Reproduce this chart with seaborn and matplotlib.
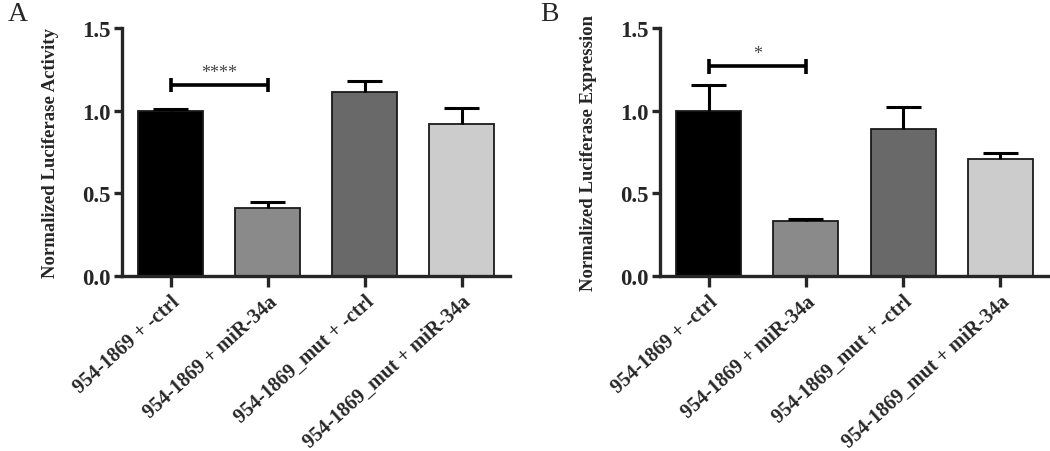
import matplotlib
matplotlib.use("Agg")
import matplotlib.pyplot as plt
import seaborn as sns
import numpy as np
import pandas as pd

categories = ["954-1869 + -ctrl", "954-1869 + miR-34a",
              "954-1869_mut + -ctrl", "954-1869_mut + miR-34a"]
activity_mean = [1.00, 0.41, 1.11, 0.92]
activity_err = [0.01, 0.04, 0.07, 0.095]
expression_mean = [1.00, 0.335, 0.89, 0.705]
expression_err = [0.155, 0.01, 0.13, 0.04]
bar_colors = ["#000000", "#8a8a8a", "#696969", "#cccccc"]
y_ticks = [0.0, 0.5, 1.0, 1.5]
panel_labels = ["A", "B"]
y_labels = ["Normalized Luciferase Activity", "Normalized Luciferase Expression"]
sig_marks = ["****", "*"]
sig_heights = [1.155, 1.268]

sns.set_style("ticks")
plt.rcParams["font.family"] = ["Liberation Serif", "DejaVu Serif"]

fig = plt.figure(figsize=(10.5, 4.52), dpi=100)
axA = fig.add_axes([122/1050, 1-277/452, 388/1050, 248/452])
axB = fig.add_axes([660/1050, 1-277/452, 389/1050, 248/452])

panels = [(axA, activity_mean, activity_err), (axB, expression_mean, expression_err)]

for i, (ax, means, errs) in enumerate(panels):
    df = pd.DataFrame({"group": categories, "value": means})
    sns.barplot(data=df, x="group", y="value", hue="group", palette=bar_colors,
                order=categories, hue_order=categories, legend=False,
                width=0.67, edgecolor="#1a1a1a", linewidth=1.3, ax=ax, errorbar=None)
    xpos = np.arange(len(categories))
    tops = np.array(means) + np.array(errs)
    ax.vlines(xpos, means, tops, color="black", lw=2.2, zorder=1)
    ax.hlines(tops, xpos - 0.18, xpos + 0.18, color="black", lw=2.2, zorder=1)
    ax.set_xlim(-0.5, 3.5)
    ax.set_ylim(0, 1.5)
    ax.set_yticks(y_ticks)
    ax.set_yticklabels([f"{t:.1f}" for t in y_ticks], fontsize=16.5, fontweight="bold")
    ax.set_xticks(xpos)
    ax.set_xticklabels(categories, rotation=42, ha="right", rotation_mode="anchor",
                       fontsize=14.5, fontweight="bold")
    ax.set_xlabel("")
    ax.set_ylabel(y_labels[i], fontsize=13.5, fontweight="bold", labelpad=17)
    for s in ["top", "right"]:
        ax.spines[s].set_visible(False)
    for s in ["left", "bottom"]:
        ax.spines[s].set_linewidth(2.4)
    ax.tick_params(axis="y", length=6, width=2.4, pad=2)
    ax.tick_params(axis="x", length=8, width=2.4, pad=3)
    # significance bracket
    h = sig_heights[i]
    ax.plot([0, 1], [h, h], color="black", lw=2.6, solid_capstyle="butt")
    for xb in [0, 1]:
        ax.plot([xb, xb], [h - 0.045, h + 0.045], color="black", lw=2.6, solid_capstyle="butt")
    ax.text(0.5, h + 0.025, sig_marks[i], ha="center", va="bottom", fontsize=13, color="#444444")
    ax.patch.set_alpha(0)

fig.text(8/1050, 1-2/452, panel_labels[0], fontsize=20, va="top", ha="left")
fig.text(540/1050, 1-2/452, panel_labels[1], fontsize=20, va="top", ha="left")

fig.savefig("out.png", dpi=100)
